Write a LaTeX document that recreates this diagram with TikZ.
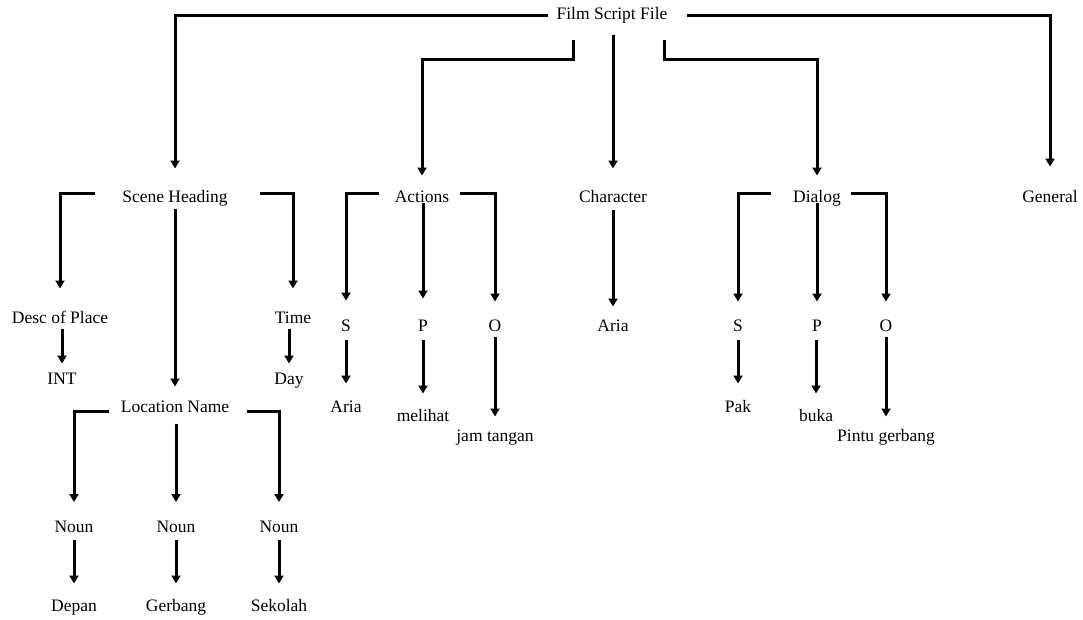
\documentclass[tikz,border=0pt]{standalone}
\usepackage{fontspec}
\setmainfont{Liberation Serif}
\usetikzlibrary{arrows.meta}
\begin{document}
\begin{tikzpicture}[x=1pt,y=-1pt,line width=3pt,
    txt/.style={text height=12pt,text depth=4pt,inner sep=0pt,font=\fontsize{17.5}{20}\selectfont},
    arr/.style={-{Triangle[width=9pt,length=8pt]}}]
    \useasboundingbox (0,0) rectangle (1083,619);
    %\draw[gray,thin] (0,0) grid[step=50] (1083,619);
    % top level
    \node[txt] (film) at (612,15) {Film Script File};
    \node[txt] (scene) at (175,198) {Scene Heading};
    \node[txt] (act) at (422,198) {Actions};
    \node[txt] (char) at (613,198) {Character};
    \node[txt] (dia) at (817,198) {Dialog};
    \node[txt] (gen) at (1050,198) {General};
    \draw[arr,shorten >=20pt] ([xshift=-7pt]film.west) -| (scene);
    \draw[arr,shorten >=22pt] ([xshift=18pt]film.east) -| (gen);
    \draw[arr,shorten >=13pt] ([xshift=-39pt,yshift=-15pt]film.south) -- ++(0,20) -| (act);
    \draw[arr,shorten >=13pt] ([xshift=52pt,yshift=-15pt]film.south) -- ++(0,20) -| (dia);
    \draw[arr,shorten >=20pt] ([xshift=1pt,yshift=-10pt]film.south) -- (char.north);
    % scene heading
    \node[txt] (desc) at (60,319) {Desc of Place};
    \node[txt] (time) at (293,319) {Time};
    \node[txt] (int) at (62,380) {INT};
    \node[txt] (day) at (289,380) {Day};
    \node[txt] (loc) at (175,408) {Location Name};
    \draw[arr,shorten >=21pt] ([xshift=-26pt,yshift=5pt]scene.west) -| (desc);
    \draw[arr,shorten >=21pt] ([xshift=31pt,yshift=5pt]scene.east) -| (time);
    \draw[arr,shorten >=12pt] ([yshift=-1pt]scene.south) -- (loc.north);
    \draw[arr,shorten >=7pt] (desc.south -| int) -- (int.north);
    \draw[arr,shorten >=7pt] (time.south -| day) -- (day.north);
    \draw[arr,shorten >=18pt] ([xshift=-10pt,yshift=-3pt]loc.west) -| (74,520);
    \draw[arr,shorten >=18pt] ([xshift=16pt,yshift=-3pt]loc.east) -| (279,520);
    \draw[arr,shorten >=18pt] (176,424) -- (176,520);
    \foreach \n/\x/\w in {1/74/Depan,2/176/Gerbang,3/279/Sekolah}{
        \node[txt] (noun\n) at (\x,528) {Noun};
        \node[txt] (word\n) at (\x,607) {\w};
        \draw[arr,shorten <=2pt,shorten >=14pt] (noun\n) -- (word\n);
    }
    % actions
    \node[txt] (as) at (346,327) {S};
    \node[txt] (ap) at (423,327) {P};
    \node[txt] (ao) at (495,327) {O};
    \node[txt] (aria) at (346,408) {Aria};
    \node[txt] (melihat) at (423,417) {melihat};
    \node[txt] (jam) at (495,437) {jam tangan};
    \draw[arr,shorten >=17pt] ([xshift=-14pt,yshift=5pt]act.west) -| (as);
    \draw[arr,shorten >=16pt] ([xshift=9pt,yshift=5pt]act.east) -| (ao);
    \draw[arr,shorten >=19pt] (ap |- act.center) ++(0,5) -- (ap.north);
    \draw[arr,shorten <=3pt,shorten >=15pt] (as) -- (aria);
    \draw[arr,shorten <=3pt,shorten >=14pt] (ap) -- (melihat);
    \draw[arr,shorten >=11pt] (ao) -- (jam);
    % character
    \node[txt] (chararia) at (613,327) {Aria};
    \draw[arr,shorten <=2pt,shorten >=11pt] (char) -- (chararia);
    % dialog
    \node[txt] (ds) at (738,327) {S};
    \node[txt] (dp) at (817,327) {P};
    \node[txt] (do) at (886,327) {O};
    \node[txt] (pak) at (738,408) {Pak};
    \node[txt] (buka) at (816,417) {buka};
    \node[txt] (pintu) at (886,437) {Pintu gerbang};
    \draw[arr,shorten >=16pt] ([xshift=-21pt,yshift=5pt]dia.west) -| (ds);
    \draw[arr,shorten >=16pt] ([xshift=9pt,yshift=5pt]dia.east) -| (do);
    \draw[arr,shorten >=16pt] ([yshift=-5pt]dia.center) -- (dp.north);
    \draw[arr,shorten <=3pt,shorten >=15pt] (ds) -- (pak);
    \draw[arr,shorten <=3pt,shorten >=14pt] (dp.south -| buka) -- (buka.north);
    \draw[arr,shorten >=11pt] (do) -- (pintu);
\end{tikzpicture}
\end{document}
